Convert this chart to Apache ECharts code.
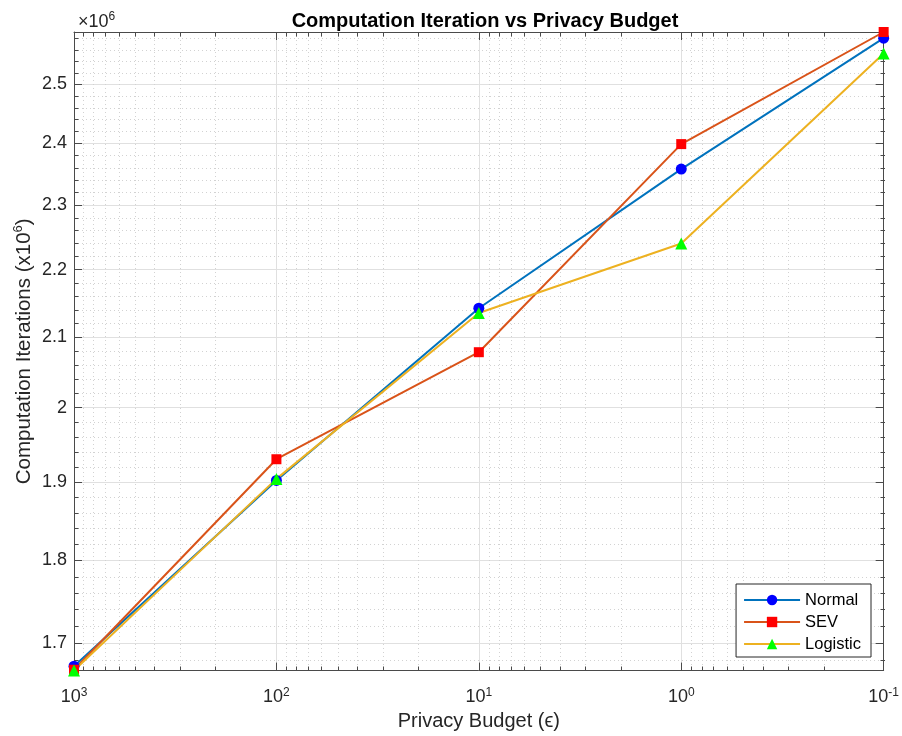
<!DOCTYPE html>
<html>
<head>
<meta charset="utf-8">
<script src="https://cdn.jsdelivr.net/npm/echarts@6/dist/echarts.min.js"></script>
<style>
  html, body { margin: 0; padding: 0; background: #ffffff; }
  #chart { width: 902px; height: 736px; }
</style>
</head>
<body>
<div id="chart"></div>
<script>
// Privacy budget (epsilon) values on the x axis
const budgets = [1000, 100, 10, 1, 0.1];

// Computation iterations, in millions, per noise distribution
const normal   = [1.673, 1.902, 2.142, 2.358, 2.581];
const sev      = [1.669, 1.930, 2.078, 2.399, 2.592];
const logistic = [1.668, 1.904, 2.135, 2.240, 2.554];

// Tick positions
const xMajorTicks = [1000, 100, 10, 1, 0.1];
const yMajorTicks = [1.7, 1.8, 1.9, 2.0, 2.1, 2.2, 2.3, 2.4, 2.5];

const xMinorTicks = [];
[0.1, 1, 10, 100].forEach(d => {
  for (let k = 2; k <= 9; k++) xMinorTicks.push(+(d * k).toPrecision(6));
});
const yMinorTicks = [];
for (let i = 84; i <= 129; i++) {
  if (i % 5 !== 0) yMinorTicks.push(+(i * 0.02).toFixed(2));
}

const allValues = normal.concat(sev, logistic);
const yMin = Math.min(...allValues);
const yMax = Math.max(...allValues);

const FONT = '"Liberation Sans", Arial, Helvetica, sans-serif';
const AXIS_COLOR = '#4a4a4a';
const TEXT_COLOR = '#262626';
const MAJOR_GRID = '#e0e0e0';
const MINOR_GRID = '#d2d2d2';

const gridRect = { left: 74, top: 32, width: 811, height: 639 };

const xCommon = { type: 'log', logBase: 10, inverse: true, min: 0.1, max: 1000 };
const yCommon = { type: 'log', logBase: 10, min: yMin, max: yMax };

const tickLine = { color: AXIS_COLOR, width: 1 };

function supLabel(v) {
  const e = Math.round(Math.log10(v));
  return '{b|10}{s|' + e + '}';
}

const xAxes = [
  Object.assign({}, xCommon, {
    gridIndex: 0, position: 'bottom',
    axisLine: { show: true, onZero: false, lineStyle: { color: AXIS_COLOR, width: 1 } },
    axisTick: { show: true, inside: true, length: 8, customValues: xMajorTicks, lineStyle: tickLine },
    axisLabel: {
      show: true, customValues: xMajorTicks, margin: 16, formatter: supLabel,
      rich: {
        b: { fontFamily: FONT, fontSize: 18, color: TEXT_COLOR },
        s: { fontFamily: FONT, fontSize: 12, color: TEXT_COLOR, padding: [0, 0, 9, 0] }
      }
    },
    splitLine: { show: true, lineStyle: { color: MAJOR_GRID, width: 1 } },
    name: 'Privacy Budget (ϵ)', nameLocation: 'middle', nameGap: 40,
    nameTextStyle: { fontFamily: FONT, fontSize: 20, color: TEXT_COLOR }
  }),
  Object.assign({}, xCommon, {
    gridIndex: 0, position: 'top',
    axisLine: { show: true, onZero: false, lineStyle: { color: AXIS_COLOR, width: 1 } },
    axisTick: { show: true, inside: true, length: 8, customValues: xMajorTicks, lineStyle: tickLine },
    axisLabel: { show: false },
    splitLine: { show: false }
  }),
  Object.assign({}, xCommon, {
    gridIndex: 1, position: 'bottom',
    axisLine: { show: false, onZero: false },
    axisTick: { show: true, inside: true, length: 4.5, customValues: xMinorTicks, lineStyle: tickLine },
    axisLabel: { show: false },
    splitLine: { show: true, lineStyle: { color: MINOR_GRID, width: 1, type: [1, 3] } }
  }),
  Object.assign({}, xCommon, {
    gridIndex: 1, position: 'top',
    axisLine: { show: false, onZero: false },
    axisTick: { show: true, inside: true, length: 4.5, customValues: xMinorTicks, lineStyle: tickLine },
    axisLabel: { show: false },
    splitLine: { show: false }
  })
];

const yAxes = [
  Object.assign({}, yCommon, {
    gridIndex: 0, position: 'left',
    axisLine: { show: true, onZero: false, lineStyle: { color: AXIS_COLOR, width: 1 } },
    axisTick: { show: true, inside: true, length: 8, customValues: yMajorTicks, lineStyle: tickLine },
    axisLabel: {
      show: true, customValues: yMajorTicks, margin: 7,
      fontFamily: FONT, fontSize: 18, color: TEXT_COLOR,
      formatter: v => String(Math.round(v * 10) / 10)
    },
    splitLine: { show: true, lineStyle: { color: MAJOR_GRID, width: 1 } },
    name: '{t|Computation Iterations (x10}{s|6}{t|)}',
    nameLocation: 'middle', nameGap: 38, nameRotate: 90, nameMoveOverlap: false,
    nameTextStyle: {
      rich: {
        t: { fontFamily: FONT, fontSize: 20.5, color: TEXT_COLOR },
        s: { fontFamily: FONT, fontSize: 13, color: TEXT_COLOR, padding: [0, 0, 11, 0] }
      }
    }
  }),
  Object.assign({}, yCommon, {
    gridIndex: 0, position: 'right',
    axisLine: { show: true, onZero: false, lineStyle: { color: AXIS_COLOR, width: 1 } },
    axisTick: { show: true, inside: true, length: 8, customValues: yMajorTicks, lineStyle: tickLine },
    axisLabel: { show: false },
    splitLine: { show: false }
  }),
  Object.assign({}, yCommon, {
    gridIndex: 1, position: 'left',
    axisLine: { show: false, onZero: false },
    axisTick: { show: true, inside: true, length: 4.5, customValues: yMinorTicks, lineStyle: tickLine },
    axisLabel: { show: false },
    splitLine: { show: true, lineStyle: { color: MINOR_GRID, width: 1, type: [1, 3] } }
  }),
  Object.assign({}, yCommon, {
    gridIndex: 1, position: 'right',
    axisLine: { show: false, onZero: false },
    axisTick: { show: true, inside: true, length: 4.5, customValues: yMinorTicks, lineStyle: tickLine },
    axisLabel: { show: false },
    splitLine: { show: false }
  })
];

function lineSeries(name, values, lineColor, symbol, markerColor, size) {
  return {
    name: name, type: 'line', xAxisIndex: 0, yAxisIndex: 0,
    data: budgets.map((b, i) => [b, values[i]]),
    symbol: symbol, symbolSize: size, showAllSymbol: true, clip: false,
    lineStyle: { color: lineColor, width: 2 },
    itemStyle: { color: markerColor, borderWidth: 0 },
    emphasis: { disabled: true },
    z: 5
  };
}

const chart = echarts.init(document.getElementById('chart'), null, { renderer: 'canvas' });
chart.setOption({
  animation: false,
  backgroundColor: '#ffffff',
  title: [
    {
      text: 'Computation Iteration vs Privacy Budget',
      left: 480, top: 6, textAlign: 'center',
      textStyle: { fontFamily: FONT, fontSize: 20, fontWeight: 'bold', color: '#000000' }
    },
    {
      text: '{m|×10}{s|6}',
      left: 73, top: 6,
      textStyle: {
        rich: {
          m: { fontFamily: FONT, fontSize: 18, fontWeight: 'normal', color: TEXT_COLOR },
          s: { fontFamily: FONT, fontSize: 12, fontWeight: 'normal', color: TEXT_COLOR, padding: [0, 0, 10, 0] }
        }
      }
    }
  ],
  grid: [
    Object.assign({}, gridRect, { z: 1 }),
    Object.assign({}, gridRect, { z: 0 })
  ],
  xAxis: xAxes,
  yAxis: yAxes,
  legend: {
    orient: 'vertical',
    right: 31, top: 584,
    itemWidth: 56, itemHeight: 13, itemGap: 5,
    padding: [7.5, 10, 4.5, 7],
    backgroundColor: '#ffffff',
    borderColor: '#262626', borderWidth: 1, borderRadius: 0,
    textStyle: { fontFamily: FONT, fontSize: 16.5, color: '#000000' },
    selectedMode: false
  },
  series: [
    lineSeries('Normal', normal, '#0072BD', 'circle', '#0000FF', 11),
    lineSeries('SEV', sev, '#D95319', 'rect', '#FF0000', 10),
    lineSeries('Logistic', logistic, '#EDB120', 'triangle', '#00FF00', 12)
  ]
});
</script>
</body>
</html>
